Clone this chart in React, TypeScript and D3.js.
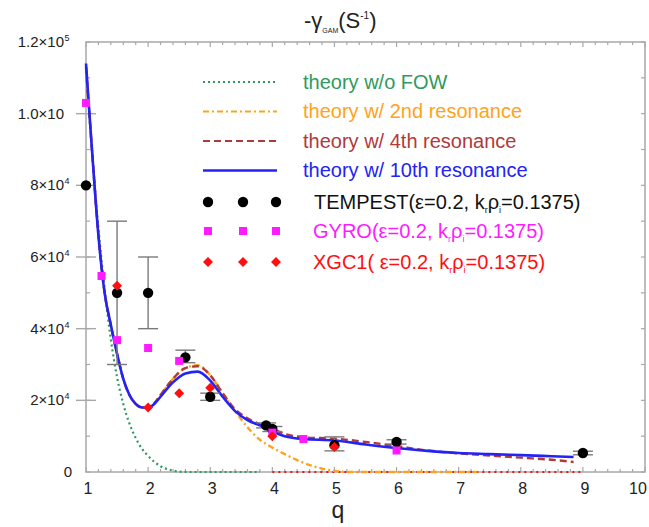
import React from "react";
import * as d3 from "d3";

// ---------- data ----------
const noFowQ = [1, 1.1, 1.2, 1.3, 1.4, 1.5, 1.6, 1.7, 1.8, 1.9, 2.0, 2.2, 2.4, 2.6, 3.0, 3.8];
const noFowV = [112000, 89000, 68000, 51000, 37000, 26500, 19000, 13500, 9500, 6500, 4500, 1600, 400, 0, 0, 0];

const res2Q = [1, 1.1, 1.2, 1.3, 1.4, 1.5, 1.6, 1.7, 1.8, 1.9, 2.0, 2.1, 2.2, 2.4, 2.6, 2.8, 3.0, 3.2, 3.4, 3.64, 3.8, 4.0, 4.2, 4.4, 4.7, 5.0, 5.2, 6.0, 7.3];
const res2V = [113000, 89000, 66000, 50000, 41000, 33000, 26000, 21500, 19000, 18000, 18000, 19200, 21500, 26000, 29000, 29800, 27000, 22000, 17000, 11700, 9000, 6800, 5000, 3300, 1400, 300, 0, 0, 0];

const res4Q = [1, 1.1, 1.2, 1.3, 1.4, 1.5, 1.6, 1.7, 1.8, 1.9, 2.0, 2.1, 2.2, 2.4, 2.6, 2.8, 3.0, 3.2, 3.4, 3.6, 3.8, 4.0, 4.2, 4.5, 5.0, 5.5, 6.0, 6.5, 7.0, 7.5, 8.0, 8.5, 8.85];
const res4V = [113000, 89000, 66000, 50000, 41000, 33000, 26000, 21500, 19000, 18000, 18000, 19200, 21500, 26000, 29000, 29500, 27000, 22000, 17500, 15000, 13300, 12000, 10600, 9700, 9300, 8400, 7200, 6000, 5200, 4600, 4000, 3400, 2800];

const res10Q = [1, 1.1, 1.2, 1.3, 1.4, 1.5, 1.6, 1.7, 1.8, 1.9, 2.0, 2.1, 2.2, 2.4, 2.6, 2.8, 3.0, 3.2, 3.4, 3.6, 3.8, 4.0, 4.2, 4.5, 5.0, 5.5, 6.0, 6.5, 7.0, 7.5, 8.0, 8.5, 8.85];
const res10V = [114000, 89000, 66000, 50000, 41000, 33000, 26000, 21500, 19000, 18000, 18000, 19000, 21000, 25000, 27500, 28000, 25500, 21000, 17000, 14500, 13000, 11300, 10000, 9200, 8800, 7700, 6700, 5900, 5300, 5000, 4700, 4400, 4200];

const xgcZeroQ = [4, 9];
const xgcZeroV = [0, 0];

const tempestQ = [1, 1.5, 2, 2.6, 3, 3.9, 4, 5, 6, 9];
const tempestV = [80000, 50000, 50000, 32000, 21000, 13000, 12000, 7500, 8400, 5300];
const tempestLo = [80000, 30000, 40000, 30500, 20000, 12300, 11300, 5900, 7800, 4800];
const tempestHi = [80000, 70000, 60000, 34000, 22000, 13700, 12700, 9800, 9000, 5800];

const gyroQ = [1, 1.25, 1.5, 2, 2.5, 4, 4.5, 6];
const gyroV = [103000, 54700, 36800, 34600, 31000, 11000, 9200, 6000];

const xgcQ = [1.5, 2, 2.5, 3, 4, 5];
const xgcV = [52000, 18000, 22000, 23500, 10000, 7000];

const xTicks = [1, 2, 3, 4, 5, 6, 7, 8, 9, 10];
const yTicks = [0, 20000, 40000, 60000, 80000, 100000, 120000];
const yTickMant = ["0", "2×10", "4×10", "6×10", "8×10", "1.0×10", "1.2×10"];
const yTickExp = ["", "4", "4", "4", "4", "", "5"];

const legendLines = [
  "theory w/o FOW",
  "theory w/ 2nd resonance",
  "theory w/ 4th resonance",
  "theory w/ 10th resonance",
];

// ---------- layout ----------
const W = 649, H = 527;
const X0 = 86, X1 = 645, Y0 = 472, Y1 = 42;
const FONT = "'Liberation Sans', Arial, Helvetica, sans-serif";

const C_GREEN = "#2f9a5c";
const C_ORANGE = "#ffa31a";
const C_BROWN = "#b03a3a";
const C_BLUE = "#2323f5";
const C_MAG = "#ff1aff";
const C_RED = "#ff1010";
const C_FRAME = "#a8a8a8";
const C_ERR = "#7a7a7a";

export default function App() {
  const x = d3.scaleLinear().domain([1, 10]).range([X0, X1]);
  const y = d3.scaleLinear().domain([0, 120000]).range([Y0, Y1]);

  const mk = (qs: number[], vs: number[]) =>
    d3.line<number>().x((d) => x(qs[d])).y((d) => y(vs[d])).curve(d3.curveMonotoneX)(qs.map((_, i) => i)) || "";

  const xMinor = d3.range(1, 10.001, 0.2);
  const yMinor = d3.range(0, 120001, 10000);

  const diamond = (cx: number, cy: number, r: number) =>
    `M${cx},${cy - r}L${cx + r},${cy}L${cx},${cy + r}L${cx - r},${cy}Z`;

  const legX0 = 203, legX1 = 277, legTextX = 303;
  const legLineY = [82, 111.5, 141, 170.5];
  const lineStyles = [
    { c: C_GREEN, dash: "2,3", w: 2.2 },
    { c: C_ORANGE, dash: "6,3,2,3", w: 2.2 },
    { c: C_BROWN, dash: "7,4", w: 2.2 },
    { c: C_BLUE, dash: "", w: 2.6 },
  ];
  const markerX = [208, 243, 276];
  const markerRowY = [202, 231, 262];
  const LF = 20;

  return (
    <svg width={W} height={H} style={{ position: "absolute", left: 0, top: 0, background: "#fff" }} fontFamily={FONT}>
      <rect x={0} y={0} width={W} height={H} fill="#fff" />
      {/* title */}
      <text x={304} y={28} fontSize={22} fill="#222">
        <tspan>-γ</tspan>
        <tspan fontSize={7} dy={5}>GAM</tspan>
        <tspan dy={-5}>(S</tspan>
        <tspan fontSize={10} dy={-9}>-1</tspan>
        <tspan dy={9}>)</tspan>
      </text>

      {/* frame */}
      <rect x={X0} y={Y1} width={X1 - X0} height={Y0 - Y1} fill="none" stroke={C_FRAME} strokeWidth={1.5} />

      {/* x minor ticks */}
      {xMinor.map((q, i) => {
        const major = Math.abs(q - Math.round(q)) < 1e-6;
        const len = major ? 5 : 3;
        return (
          <g key={"xm" + i} stroke={C_FRAME} strokeWidth={1.2}>
            <line x1={x(q)} x2={x(q)} y1={Y0} y2={Y0 - len} />
            <line x1={x(q)} x2={x(q)} y1={Y1} y2={Y1 + len} />
          </g>
        );
      })}
      {/* y ticks */}
      {yMinor.map((v, i) => (
        <g key={"ym" + i} stroke={C_FRAME} strokeWidth={1.2}>
          <line x1={X0} x2={X0 + 4} y1={y(v)} y2={y(v)} />
          <line x1={X1} x2={X1 - 4} y1={y(v)} y2={y(v)} />
        </g>
      ))}
      {yTicks.map((v, i) =>
        v > 0 && v < 120000 ? (
          <line key={"yM" + i} x1={X0 - 10} x2={X0 + 10} y1={y(v)} y2={y(v)} stroke={C_FRAME} strokeWidth={1.4} />
        ) : null
      )}

      {/* y tick labels */}
      {yTicks.map((v, i) => (
        <g key={"yl" + i} fill="#222" fontSize={15}>
          <text x={yTickMant[i] === "0" ? 72 : 64} y={y(v) + 5} textAnchor="end">{yTickMant[i]}</text>
          {yTickExp[i] ? (
            <text x={64.5} y={y(v) - 1} fontSize={9}>{yTickExp[i]}</text>
          ) : null}
        </g>
      ))}

      {/* x tick labels */}
      {xTicks.map((q, i) => (
        <text key={"xl" + i} x={Math.min(x(q) + 2, 638)} y={494} fontSize={16} textAnchor="middle" fill="#222">{q}</text>
      ))}
      <text x={338} y={518} fontSize={23} textAnchor="middle" fill="#222">q</text>

      {/* theory lines */}
      <path d={mk(xgcZeroQ, xgcZeroV)} fill="none" stroke={C_RED} strokeWidth={2} strokeDasharray="2,4" />
      <path d={mk(noFowQ, noFowV)} fill="none" stroke={C_GREEN} strokeWidth={2.2} strokeDasharray="2,3" />
      <path d={mk(res2Q, res2V)} fill="none" stroke={C_ORANGE} strokeWidth={2.4} strokeDasharray="6,3,2,3" />
      <path d={mk(res4Q, res4V)} fill="none" stroke={C_BROWN} strokeWidth={2.4} strokeDasharray="7,4" />
      <path d={mk(res10Q, res10V)} fill="none" stroke={C_BLUE} strokeWidth={2.6} />

      {/* error bars */}
      {tempestQ.map((q, i) =>
        tempestHi[i] !== tempestLo[i] ? (
          <g key={"eb" + i} stroke={C_ERR} strokeWidth={1.4}>
            <line x1={x(q)} x2={x(q)} y1={y(tempestLo[i])} y2={y(tempestHi[i])} />
            <line x1={x(q) - 10} x2={x(q) + 10} y1={y(tempestLo[i])} y2={y(tempestLo[i])} />
            <line x1={x(q) - 10} x2={x(q) + 10} y1={y(tempestHi[i])} y2={y(tempestHi[i])} />
          </g>
        ) : null
      )}

      {/* points */}
      {tempestQ.map((q, i) => (
        <circle key={"tp" + i} cx={x(q)} cy={y(tempestV[i])} r={5.2} fill="#000" />
      ))}
      {gyroQ.map((q, i) => (
        <rect key={"gp" + i} x={x(q) - 4} y={y(gyroV[i]) - 4} width={8} height={8} fill={C_MAG} />
      ))}
      {xgcQ.map((q, i) => (
        <path key={"xp" + i} d={diamond(x(q), y(xgcV[i]), 5)} fill={C_RED} />
      ))}

      {/* legend */}
      {legendLines.map((t, i) => (
        <g key={"ll" + i}>
          <line x1={legX0} x2={legX1} y1={legLineY[i]} y2={legLineY[i]} stroke={lineStyles[i].c}
            strokeWidth={lineStyles[i].w} strokeDasharray={lineStyles[i].dash || undefined} />
          <text x={legTextX} y={legLineY[i] + 6.5} fontSize={LF} fill={lineStyles[i].c}>{t}</text>
        </g>
      ))}
      {markerX.map((mx, j) => (
        <g key={"lm" + j}>
          <circle cx={mx} cy={markerRowY[0]} r={5.2} fill="#000" />
          <rect x={mx - 4} y={markerRowY[1] - 4} width={8} height={8} fill={C_MAG} />
          <path d={diamond(mx, markerRowY[2], 5)} fill={C_RED} />
        </g>
      ))}
      <text x={314} y={markerRowY[0] + 6.5} fontSize={LF} fill="#111">
        <tspan>TEMPEST(ε=0.2, k</tspan>
        <tspan fontSize={9} dy={4}>r</tspan>
        <tspan dy={-4}>ρ</tspan>
        <tspan fontSize={9} dy={4}>i</tspan>
        <tspan dy={-4}>=0.1375)</tspan>
      </text>
      <text x={313} y={markerRowY[1] + 6.5} fontSize={LF} fill={C_MAG}>
        <tspan>GYRO(ε=0.2, k</tspan>
        <tspan fontSize={9} dy={4}>r</tspan>
        <tspan dy={-4}>ρ</tspan>
        <tspan fontSize={9} dy={4}>i</tspan>
        <tspan dy={-4}>=0.1375)</tspan>
      </text>
      <text x={313} y={markerRowY[2] + 6.5} fontSize={LF} fill={C_RED}>
        <tspan>XGC1( ε=0.2, k</tspan>
        <tspan fontSize={9} dy={4}>r</tspan>
        <tspan dy={-4}>ρ</tspan>
        <tspan fontSize={9} dy={4}>i</tspan>
        <tspan dy={-4}>=0.1375)</tspan>
      </text>
    </svg>
  );
}
